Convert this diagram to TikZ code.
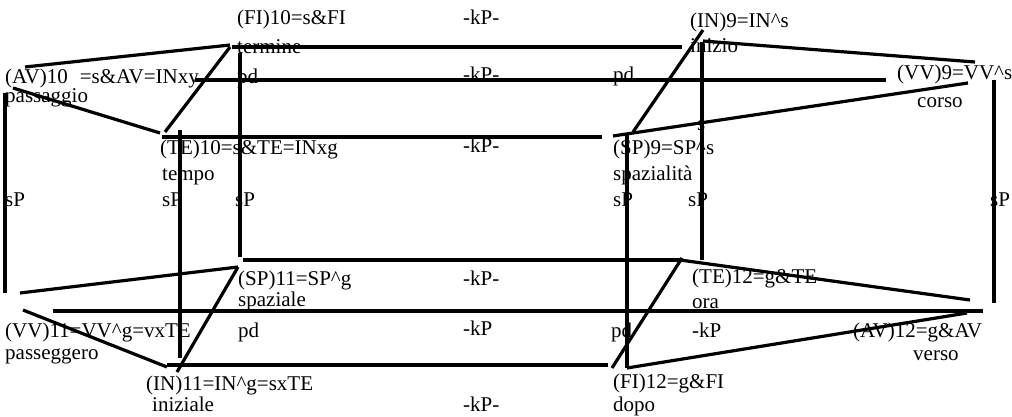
\documentclass[tikz,border=0pt]{standalone}
\usepackage{fontspec}
\setmainfont{Liberation Serif}
\begin{document}
\begin{tikzpicture}[x=1pt,y=-1pt,
  lbl/.style={anchor=base west,inner sep=0pt,font=\fontsize{21}{21}\selectfont},
  edge/.style={line width=3.2pt}]
\useasboundingbox (0,0) rectangle (1012,417);
% ---------- coordinates (top hexagon) ----------
\coordinate (AVa) at (25,67);   \coordinate (FIa) at (230,45);
\coordinate (AVb) at (13,88);   \coordinate (TEa) at (160,133);
\coordinate (TEb) at (165,132); \coordinate (FIb) at (230,47);
\coordinate (FIc) at (232,47);  \coordinate (INa) at (682,47);
\coordinate (INb) at (703,41);  \coordinate (VVa) at (975,62);
\coordinate (INc) at (703,30);  \coordinate (SPa) at (633,132);
\coordinate (SPb) at (613,136); \coordinate (VVb) at (968,83);
\coordinate (AVc) at (195,80);  \coordinate (VVc) at (886,80);
\coordinate (TEc) at (162,137); \coordinate (SPc) at (602,137);
% verticals
\coordinate (v1t) at (5,93);    \coordinate (v1b) at (5,293);
\coordinate (v2t) at (180,130); \coordinate (v2b) at (180,358);
\coordinate (v3t) at (240,53);  \coordinate (v3b) at (240,257);
\coordinate (v4t) at (627,135); \coordinate (v4b) at (627,368);
\coordinate (v5t) at (702,42);  \coordinate (v5b) at (702,260);
\coordinate (v6t) at (994,80);  \coordinate (v6b) at (994,303);
% ---------- coordinates (bottom hexagon) ----------
\coordinate (VVd) at (20,293);  \coordinate (SPd) at (238,267);
\coordinate (VVe) at (23,310);  \coordinate (INd) at (167,367);
\coordinate (INe) at (177,372); \coordinate (SPe) at (238,267);
\coordinate (SPf) at (243,260); \coordinate (TEd) at (680,260);
\coordinate (TEe) at (680,260); \coordinate (AVd) at (970,300);
\coordinate (TEf) at (682,258); \coordinate (FId) at (612,368);
\coordinate (FIe) at (627,368); \coordinate (AVe) at (967,313);
\coordinate (VVf) at (53,311);  \coordinate (AVf) at (983,311);
\coordinate (INf) at (167,365); \coordinate (FIf) at (608,365);
% ---------- lines ----------
\draw[edge] (AVa) -- (FIa);
\draw[edge] (AVb) -- (TEa);
\draw[edge] (TEb) -- (FIb);
\draw[edge] (FIc) -- (INa);
\draw[edge] (INb) -- (VVa);
\draw[edge] (INc) -- (SPa);
\draw[edge] (SPb) -- (VVb);
\draw[edge] (AVc) -- (VVc);
\draw[edge] (TEc) -- (SPc);
\draw[edge] (v1t) -- (v1b);
\draw[edge] (v2t) -- (v2b);
\draw[edge] (v3t) -- (v3b);
\draw[edge] (v4t) -- (v4b);
\draw[edge] (v5t) -- (v5b);
\draw[edge] (v6t) -- (v6b);
\draw[edge] (VVd) -- (SPd);
\draw[edge] (VVe) -- (INd);
\draw[edge] (INe) -- (SPe);
\draw[edge] (SPf) -- (TEd);
\draw[edge] (TEe) -- (AVd);
\draw[edge] (TEf) -- (FId);
\draw[edge] (FIe) -- (AVe);
\draw[edge] (VVf) -- (AVf);
\draw[edge] (INf) -- (FIf);
% ---------- texts ----------
\node[lbl] (t1) at (237,25) {(FI)10=s\&FI};
\node[lbl] (t2) at (237,54) {termine};
\node[lbl] (t3) at (463,25) {-kP-};
\node[lbl] (t4) at (690,28) {(IN)9=IN\textasciicircum s};
\node[lbl] (t5) at (690,53) {inizio};
\node[lbl] (t6) at (5,84) {(AV)10\hspace{12pt}=s\&AV=INxy};
\node[lbl] (t7) at (5,103) {passaggio};
\node[lbl] (t8) at (237,84) {pd};
\node[lbl] (t9) at (463,82) {-kP-};
\node[lbl] (t10) at (613,82) {pd};
\node[lbl] (t11) at (897,80) {(VV)9=VV\textasciicircum s};
\node[lbl] (t12) at (917,108) {corso};
\node[lbl] (t13) at (697,131) {s};
\node[lbl] (t14) at (160,154) {(TE)10=s\&TE=INxg};
\node[lbl] (t15) at (463,153) {-kP-};
\node[lbl] (t16) at (613,154) {(SP)9=SP\textasciicircum s};
\node[lbl] (t17) at (162,180) {tempo};
\node[lbl] (t18) at (613,180) {spazialità};
\node[lbl] (t19) at (5,206) {sP};
\node[lbl] (t20) at (162,206) {sP};
\node[lbl] (t21) at (235,206) {sP};
\node[lbl] (t22) at (613,206) {sP};
\node[lbl] (t23) at (688,206) {sP};
\node[lbl] (t24) at (990,206) {sP};
\node[lbl] (t25) at (238,285) {(SP)11=SP\textasciicircum g};
\node[lbl] (t26) at (463,285) {-kP-};
\node[lbl] (t27) at (692,283) {(TE)12=g\&TE};
\node[lbl] (t28) at (238,306) {spaziale};
\node[lbl] (t29) at (692,308) {ora};
\node[lbl] (t30) at (5,337) {(VV)11=VV\textasciicircum g=vxTE};
\node[lbl] (t31) at (238,337) {pd};
\node[lbl] (t32) at (463,335) {-kP};
\node[lbl] (t33) at (611,337) {pd};
\node[lbl] (t34) at (692,337) {-kP};
\node[lbl] (t35) at (853,337) {(AV)12=g\&AV};
\node[lbl] (t36) at (5,359) {passeggero};
\node[lbl] (t37) at (913,360) {verso};
\node[lbl] (t38) at (146,390) {(IN)11=IN\textasciicircum g=sxTE};
\node[lbl] (t39) at (613,388) {(FI)12=g\&FI};
\node[lbl] (t40) at (152,411) {iniziale};
\node[lbl] (t41) at (463,411) {-kP-};
\node[lbl] (t42) at (613,411) {dopo};
\end{tikzpicture}
\end{document}
